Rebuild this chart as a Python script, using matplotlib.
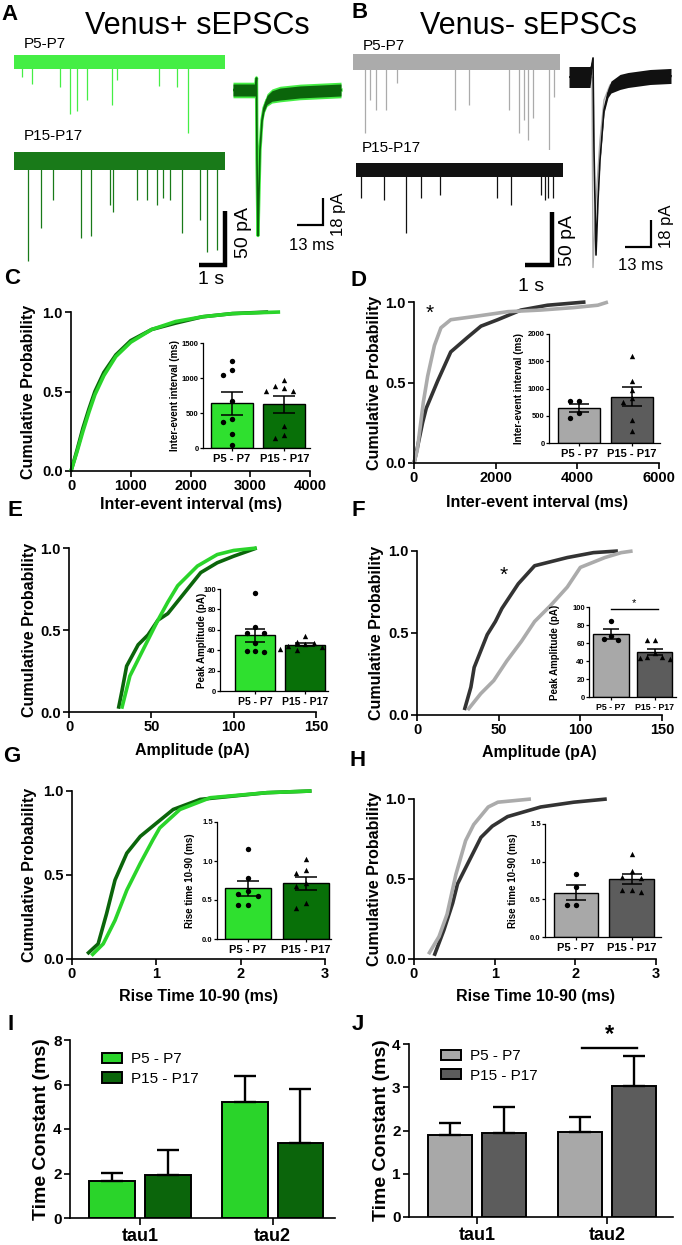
import numpy as np
import matplotlib.pyplot as plt
from matplotlib.patches import Patch

plt.rcParams['font.family'] = ['Liberation Sans', 'DejaVu Sans']

W, H = 682, 1245

# --- panel A/B : raw traces --------------------------------------------
# spontaneous events, time (s) and amplitude (pA, downward)
A_P5_TIMES = [0.29, 0.67, 1.74, 2.12, 2.40, 2.75, 3.70, 3.89, 5.50, 6.16, 6.60]
A_P5_AMPS = [14, 20, 23, 48, 45, 35, 40, 17, 22, 23, 66]
A_P15_TIMES = [0.53, 1.02, 1.48, 2.54, 2.92, 3.64, 3.75, 4.66, 5.04, 5.42, 5.64, 5.91, 6.36, 7.05, 7.31, 7.69]
A_P15_AMPS = [93, 62, 36, 71, 69, 41, 47, 36, 36, 41, 34, 36, 67, 55, 84, 82]
B_P5_TIMES = [0.45, 0.66, 0.87, 1.25, 1.67, 3.86, 4.40, 5.90, 6.30, 6.49, 6.62, 6.81, 7.44, 7.63]
B_P5_AMPS = [67, 36, 45, 45, 20, 45, 41, 45, 67, 55, 74, 53, 85, 33]
B_P15_TIMES = [0.19, 1.06, 1.89, 2.46, 3.20, 5.34, 5.87, 7.00, 7.16, 7.27, 7.46]
B_P15_AMPS = [26, 28, 59, 26, 24, 26, 33, 24, 28, 26, 26]
TRACE_DUR_A = 8.0
TRACE_DUR_B = 7.84
NOISE_A = [6.5, 8.0]
NOISE_B = [7.5, 7.0]

# averaged events, time (ms) and current (pA)
A_AVG_T = [0, 11.25, 11.75, 12, 12.5, 13, 13.5, 14.5, 15.5, 17, 19.5, 23.5, 33.5, 54]
A_AVG_I = [0, 0, 8, -47, -97, -67, -40, -20, -12, -6.7, -4, -2.7, -1.3, 0]
A_AVG_NOISE = [4, 4, 1, 0.5, 0.5, 0.5, 0.8, 1.5, 2.5, 3, 3.5, 4, 4, 4]
B_AVG_T = [0, 10.5, 12, 12.5, 13.5, 14.5, 15.5, 17.5, 19.5, 21, 25.5, 29.5, 40.5, 51]
B_AVG_I = [0, 0, 12.7, -48.7, -118.7, -82, -55.3, -22, -10.7, -6.7, -3.3, -2, 0, 0.7]
B_AVG_NOISE = [7, 7, 1, 0.5, 0.5, 0.5, 1, 2, 3, 4, 5, 5, 5, 5]
B_AVG2_T = [0, 11.5, 12, 13.5, 15.5, 17.5, 20.5, 25.5, 51]
B_AVG2_I = [0, 0, -127, -82, -42, -15.3, -5.3, -2, 0]

# --- cumulative distributions -----------------------------------------
C_P5_X = [0, 100, 200, 300, 400, 550, 750, 1000, 1350, 1750, 2200, 2700, 3500]
C_P5_P = [0, 0.12, 0.25, 0.37, 0.48, 0.60, 0.72, 0.81, 0.89, 0.94, 0.97, 0.99, 1.0]
C_P15_X = [0, 100, 200, 300, 400, 550, 750, 1000, 1350, 1750, 2200, 2700, 3300]
C_P15_P = [0, 0.13, 0.27, 0.39, 0.50, 0.62, 0.73, 0.82, 0.89, 0.93, 0.97, 0.99, 1.0]
D_P5_X = [0, 80, 150, 230, 335, 500, 660, 900, 1480, 2300, 3100, 3900, 4500, 4750]
D_P5_P = [0, 0.08, 0.22, 0.38, 0.54, 0.73, 0.84, 0.89, 0.91, 0.94, 0.95, 0.965, 0.98, 1.0]
D_P15_X = [0, 70, 210, 300, 580, 900, 1310, 1640, 2050, 2620, 3270, 4200]
D_P15_P = [0, 0.08, 0.25, 0.34, 0.51, 0.69, 0.78, 0.85, 0.89, 0.95, 0.98, 1.0]
E_P5_X = [32, 37, 43, 49, 54, 60, 66, 78, 90, 100, 114]
E_P5_P = [0.02, 0.22, 0.34, 0.46, 0.56, 0.67, 0.77, 0.89, 0.96, 0.985, 1.0]
E_P15_X = [30, 32, 35, 42, 48, 54, 60, 68, 80, 90, 100, 114]
E_P15_P = [0.02, 0.12, 0.28, 0.41, 0.47, 0.56, 0.60, 0.70, 0.85, 0.91, 0.95, 1.0]
F_P5_X = [31, 39, 47, 55, 64, 72, 82, 92, 100, 115, 125, 132]
F_P5_P = [0.03, 0.13, 0.21, 0.33, 0.45, 0.57, 0.67, 0.78, 0.90, 0.96, 0.99, 1.0]
F_P15_X = [29, 33, 35, 39, 43, 48, 52, 62, 72, 92, 108, 123]
F_P15_P = [0.03, 0.17, 0.29, 0.39, 0.49, 0.57, 0.65, 0.80, 0.91, 0.96, 0.99, 1.0]
G_P5_X = [0.23, 0.37, 0.51, 0.65, 0.81, 0.96, 1.04, 1.28, 1.64, 2.31, 2.84]
G_P5_P = [0.02, 0.09, 0.23, 0.41, 0.57, 0.71, 0.78, 0.89, 0.96, 0.99, 1.0]
G_P15_X = [0.18, 0.31, 0.41, 0.51, 0.65, 0.81, 0.98, 1.20, 1.52, 2.31, 2.84]
G_P15_P = [0.03, 0.09, 0.27, 0.47, 0.63, 0.73, 0.80, 0.89, 0.95, 0.99, 1.0]
H_P5_X = [0.18, 0.31, 0.41, 0.52, 0.64, 0.74, 0.92, 1.04, 1.45]
H_P5_P = [0.03, 0.14, 0.28, 0.53, 0.74, 0.84, 0.95, 0.98, 1.0]
H_P15_X = [0.25, 0.37, 0.48, 0.54, 0.66, 0.83, 0.97, 1.16, 1.57, 1.98, 2.39]
H_P15_P = [0.02, 0.18, 0.35, 0.47, 0.59, 0.76, 0.83, 0.89, 0.95, 0.98, 1.0]

# --- per-cell values for the insets -------------------------------------
C_CELLS_P5 = [1248, 1119, 1048, 667, 414, 371, 205, 38]
C_CELLS_P15 = [857, 819, 819, 881, 976, 310, 181, 143]
D_CELLS_P5 = [773, 773, 466, 558]
D_CELLS_P15 = [1600, 1130, 980, 820, 760, 430, 220]
E_CELLS_P5 = [95.8, 62.4, 57, 57, 47, 39, 38.3, 38.8]
E_CELLS_P15 = [54, 48, 47, 44, 41, 40, 43, 46]
F_CELLS_P5 = [85, 68, 63, 64]
F_CELLS_P15 = [63, 63, 49, 45, 44, 43, 42]
G_CELLS_P5 = [1.15, 0.78, 0.55, 0.58, 0.43, 0.44, 0.62]
G_CELLS_P15 = [1.02, 0.85, 0.88, 0.68, 0.72, 0.40, 0.46]
H_CELLS_P5 = [0.83, 0.66, 0.42, 0.43]
H_CELLS_P15 = [1.10, 0.88, 0.80, 0.78, 0.62, 0.60, 0.62]

# --- decay time constants ---------------------------------------------
TAUS = ['tau1', 'tau2']
I_P5 = [1.65, 5.22]
I_P5_ERR = [0.38, 1.16]
I_P15 = [1.95, 3.38]
I_P15_ERR = [1.10, 2.41]
J_P5 = [1.90, 1.97]
J_P5_ERR = [0.27, 0.35]
J_P15 = [1.94, 3.03]
J_P15_ERR = [0.60, 0.69]

LIME = '#45ee45'
GREEN_L = '#2ad42a'
GREEN_D = '#0b650b'
BAR_GL = '#2fe02f'
BAR_GD = '#087008'
GRAY_L = '#ababab'
GRAY_D = '#333333'
BAR_KL = '#a8a8a8'
BAR_KD = '#5c5c5c'

fig = plt.figure(figsize=(W / 100, H / 100), dpi=100)


def px_axes(left, top, right, bottom):
    return fig.add_axes([left / W, 1 - bottom / H, (right - left) / W, (bottom - top) / H])


def ftext(x, y, s, **kw):
    fig.text(x / W, 1 - y / H, s, **kw)


# ===================== traces ======================
def trace_axes(x0, x1, top, bottom, base, t_per_px, pa_per_px):
    ax = px_axes(x0, top, x1, bottom)
    ax.set_xlim(0, (x1 - x0) * t_per_px)
    ax.set_ylim(-(bottom - base) * pa_per_px, (base - top) * pa_per_px)
    ax.axis('off')
    return ax


def raw_trace(ax, dur, noise, times, amps, color):
    ax.fill_between([0, dur], [-noise, -noise], [noise, noise], color=color, lw=0)
    ax.vlines(times, -np.array(amps), 0, color=color, lw=0.9)


def scale_bar(ax, x, y, dx, dy, lw):
    ax.plot([x - dx, x, x], [y, y, y + dy], color='k', lw=lw,
            solid_joinstyle='miter', solid_capstyle='butt', clip_on=False)


# panel A
ax = trace_axes(14, 225, 40, 140, 62, 1 / 26.4, 1 / 1.08)
raw_trace(ax, TRACE_DUR_A, NOISE_A[0], A_P5_TIMES, A_P5_AMPS, LIME)
ax = trace_axes(14, 225, 140, 290, 161, 1 / 26.4, 1 / 1.08)
raw_trace(ax, TRACE_DUR_A, NOISE_A[1], A_P15_TIMES, A_P15_AMPS, '#197a19')
scale_bar(ax, 8.0, -96, 1.0, 50, 3.2)

ax = trace_axes(233, 345, 60, 260, 90, 0.5, 1 / 1.5)
t = np.array(A_AVG_T)
i = np.array(A_AVG_I)
nz = np.array(A_AVG_NOISE)
ax.fill_between(t, i - nz - 1.2, i + nz + 1.2, color=LIME, lw=0, zorder=1)
ax.plot(t, i, color=LIME, lw=2.4, zorder=1)
ax.fill_between(t, i - nz, i + nz, color=GREEN_D, lw=0, zorder=2)
ax.plot(t, i, color=GREEN_D, lw=1.2, zorder=3)
scale_bar(ax, 45, -90, 13, 18, 1.6)

# panel B
ax = trace_axes(353, 560, 40, 150, 62, 1 / 26.4, 1 / 1.06)
raw_trace(ax, TRACE_DUR_B, NOISE_B[0], B_P5_TIMES, B_P5_AMPS, GRAY_L)
ax = trace_axes(356, 563, 150, 290, 170, 1 / 26.4, 1 / 1.06)
raw_trace(ax, TRACE_DUR_B, NOISE_B[1], B_P15_TIMES, B_P15_AMPS, '#111111')
scale_bar(ax, 7.42, -90, 1.0, 50, 3.2)

ax = trace_axes(569, 680, 50, 275, 77, 0.5, 1 / 1.5)
ax.plot(B_AVG2_T, B_AVG2_I, color=GRAY_L, lw=1.0, zorder=1)
t = np.array(B_AVG_T)
i = np.array(B_AVG_I)
nz = np.array(B_AVG_NOISE)
ax.fill_between(t, i - nz, i + nz, color='#111111', lw=0, zorder=2)
ax.plot(t, i, color='#111111', lw=1.2, zorder=3)
scale_bar(ax, 41, -113.3, 13, 18, 1.6)

# trace texts
ftext(10, 14, 'A', fontsize=16, fontweight='bold', ha='center', va='center')
ftext(360, 12, 'B', fontsize=16, fontweight='bold', ha='center', va='center')
ftext(197, 26, 'Venus+ sEPSCs', fontsize=22, ha='center', va='center')
ftext(528, 26, 'Venus- sEPSCs', fontsize=22, ha='center', va='center')
ftext(24, 48, 'P5-P7', fontsize=11, va='baseline')
ftext(24, 140, 'P15-P17', fontsize=11, va='baseline')
ftext(363, 50, 'P5-P7', fontsize=11, va='baseline')
ftext(362, 152, 'P15-P17', fontsize=11, va='baseline')
ftext(244, 232, '50 pA', fontsize=14, rotation=90, ha='center', va='center')
ftext(211, 279, '1 s', fontsize=14, ha='center', va='center')
ftext(339, 214, '18 pA', fontsize=12, rotation=90, ha='center', va='center')
ftext(312, 245, '13 ms', fontsize=12, ha='center', va='center')
ftext(567, 240, '50 pA', fontsize=14, rotation=90, ha='center', va='center')
ftext(531, 286, '1 s', fontsize=14, ha='center', va='center')
ftext(666, 226, '18 pA', fontsize=12, rotation=90, ha='center', va='center')
ftext(641, 266, '13 ms', fontsize=12, ha='center', va='center')


# ===================== cumulative panels ======================
def style_main(ax, box, ylab_x, xlab_y, tick_fs=10.5):
    left, top, right, bottom = box
    for s in ('top', 'right'):
        ax.spines[s].set_visible(False)
    for s in ('left', 'bottom'):
        ax.spines[s].set_linewidth(1.2)
    ax.tick_params(direction='out', length=4, width=1.2, labelsize=tick_fs, pad=2)
    for lab in ax.get_xticklabels() + ax.get_yticklabels():
        lab.set_fontweight('bold')
    ax.yaxis.set_label_coords((ylab_x - left) / (right - left), 0.5)
    ax.yaxis.label.set_va('center')
    ax.xaxis.set_label_coords(0.5, (bottom - xlab_y) / (bottom - top))
    ax.xaxis.label.set_va('center')


def cum_panel(box, curves, xmax, xticks, xlabel, ylab_x, xlab_y):
    ax = px_axes(*box)
    ax.set_facecolor('none')
    for x, p, c in curves:
        ax.plot(x, p, color=c, lw=2.6, clip_on=False, solid_capstyle='butt')
    ax.set_xlim(0, xmax)
    ax.set_ylim(0, 1)
    ax.set_xticks(xticks)
    ax.set_yticks([0, 0.5, 1.0])
    ax.set_yticklabels(['0.0', '0.5', '1.0'])
    ax.set_xlabel(xlabel, fontsize=11.5, fontweight='bold')
    ax.set_ylabel('Cumulative Probability', fontsize=11.5, fontweight='bold')
    style_main(ax, box, ylab_x, xlab_y)
    return ax


def swarm(vals, ymax, dx=0.17, tol=0.07):
    vals = np.asarray(vals, dtype=float)
    xs = np.zeros(len(vals))
    placed = []
    for k in np.argsort(vals)[::-1]:
        for step in (0, -1, 1, -2, 2, -3, 3):
            ok = all(abs(vals[k] - vals[j]) > tol * ymax or abs(step * dx - xs[j]) > dx * 0.9
                     for j in placed)
            if ok:
                xs[k] = step * dx
                break
        placed.append(k)
    return xs


def inset_panel(box, xlim, ymax, yticks, ylabel, ylab_x, v1, v2, c1, c2, cap=6, xfs=8):
    left, top, right, bottom = box
    ax = px_axes(*box)
    ax.set_facecolor('none')
    means = [np.mean(v1), np.mean(v2)]
    sems = [np.std(v1, ddof=1) / np.sqrt(len(v1)), np.std(v2, ddof=1) / np.sqrt(len(v2))]
    ax.bar([0, 1], means, width=0.8, color=[c1, c2], edgecolor='k', lw=1.0, zorder=1)
    for k, (v, m) in enumerate(((v1, 'o'), (v2, '^'))):
        ax.scatter(k + swarm(v, ymax), v, marker=m, s=15, color='k', lw=0, zorder=3, clip_on=False)
    ax.errorbar([0, 1], means, yerr=sems, fmt='none', ecolor='k', elinewidth=1.1,
                capsize=cap, capthick=1.1, zorder=4)
    ax.set_xlim(*xlim)
    ax.set_ylim(0, ymax)
    ax.set_yticks(yticks)
    ax.set_xticks([0, 1])
    ax.set_xticklabels(['P5 - P7', 'P15 - P17'])
    for s in ('top', 'right'):
        ax.spines[s].set_visible(False)
    for s in ('left', 'bottom'):
        ax.spines[s].set_linewidth(0.9)
    ax.tick_params(axis='y', length=2, width=0.9, labelsize=5.5, pad=1)
    ax.tick_params(axis='x', length=2, width=0.9, labelsize=xfs, pad=2)
    for lab in ax.get_xticklabels() + ax.get_yticklabels():
        lab.set_fontweight('bold')
    ax.set_ylabel(ylabel, fontsize=7, fontweight='bold')
    ax.yaxis.set_label_coords((ylab_x - left) / (right - left), 0.5)
    ax.yaxis.label.set_va('center')
    return ax


# C
cum_panel((71, 312, 310, 471), [(C_P15_X, C_P15_P, GREEN_D), (C_P5_X, C_P5_P, GREEN_L)],
          4000, [0, 1000, 2000, 3000, 4000], 'Inter-event interval (ms)', 29, 504)
inset_panel((203, 343, 310, 448), (-0.55, 1.49), 1500, [0, 500, 1000, 1500],
            'Inter-event interval (ms)', 175, C_CELLS_P5, C_CELLS_P15, BAR_GL, BAR_GD, cap=8)

# D
ax = cum_panel((414, 302, 659, 463), [(D_P15_X, D_P15_P, GRAY_D), (D_P5_X, D_P5_P, GRAY_L)],
               6000, [0, 2000, 4000, 6000], 'Inter-event interval (ms)', 375, 503)
ax.text(392, 0.93, '*', fontsize=15, ha='center', va='center')
inset_panel((549, 334, 660, 443), (-0.57, 1.53), 2000, [0, 500, 1000, 1500, 2000],
            'Inter-event interval (ms)', 519, D_CELLS_P5, D_CELLS_P15, BAR_KL, BAR_KD, cap=7)

# E
cum_panel((69, 548, 316, 712), [(E_P15_X, E_P15_P, GREEN_D), (E_P5_X, E_P5_P, GREEN_L)],
          150, [0, 50, 100, 150], 'Amplitude (pA)', 30, 750)
inset_panel((220, 589, 328, 691), (-0.70, 1.45), 100, [0, 20, 40, 60, 80, 100],
            'Peak Amplitude (pA)', 202, E_CELLS_P5, E_CELLS_P15, BAR_GL, BAR_GD, cap=7, xfs=7.5)

# F
ax = cum_panel((417, 551, 662, 715), [(F_P15_X, F_P15_P, GRAY_D), (F_P5_X, F_P5_P, GRAY_L)],
               150, [0, 50, 100, 150], 'Amplitude (pA)', 376, 753)
ax.text(53, 0.85, '*', fontsize=15, ha='center', va='center')
ax = inset_panel((589, 607, 676, 697), (-0.5, 1.48), 100, [0, 20, 40, 60, 80, 100],
                 'Peak Amplitude (pA)', 555, F_CELLS_P5, F_CELLS_P15, BAR_KL, BAR_KD, cap=6, xfs=6.3)
ax.plot([0, 1.07], [97.8, 97.8], color='k', lw=1.0, clip_on=False)
ax.text(0.53, 99, '*', fontsize=8, ha='center', va='bottom')

# G
cum_panel((72, 791, 325, 959), [(G_P15_X, G_P15_P, GREEN_D), (G_P5_X, G_P5_P, GREEN_L)],
          3, [0, 1, 2, 3], 'Rise Time 10-90 (ms)', 30, 996)
ax = inset_panel((217, 822, 331, 939), (-0.53, 1.43), 1.5, [0, 0.5, 1.0, 1.5],
                 'Rise time 10-90 (ms)', 190, G_CELLS_P5, G_CELLS_P15, BAR_GL, BAR_GD, cap=8)
ax.set_yticklabels(['0.0', '0.5', '1.0', '1.5'], fontweight='bold')

# H
cum_panel((414, 799, 656, 959), [(H_P15_X, H_P15_P, GRAY_D), (H_P5_X, H_P5_P, GRAY_L)],
          3, [0, 1, 2, 3], 'Rise Time 10-90 (ms)', 375, 996)
ax = inset_panel((545, 824, 661, 937), (-0.56, 1.53), 1.5, [0, 0.5, 1.0, 1.5],
                 'Rise time 10-90 (ms)', 513, H_CELLS_P5, H_CELLS_P15, BAR_KL, BAR_KD, cap=7)
ax.set_yticklabels(['0.0', '0.5', '1.0', '1.5'], fontweight='bold')


# ===================== time constants ======================
def tau_panel(box, xlim, off, width, ymax, yticks, p5, p5e, p15, p15e, c1, c2, ylab_x, leg_anchor):
    ax = px_axes(*box)
    x = np.arange(len(TAUS))
    ekw = dict(capsize=7.8, elinewidth=1.7, capthick=1.7, ecolor='k')
    ax.bar(x - off, p5, width, color=c1, edgecolor='k', lw=1.4,
           yerr=[np.zeros(len(p5)), p5e], error_kw=ekw)
    ax.bar(x + off, p15, width, color=c2, edgecolor='k', lw=1.4,
           yerr=[np.zeros(len(p15)), p15e], error_kw=ekw)
    ax.set_xlim(*xlim)
    ax.set_ylim(0, ymax)
    ax.set_yticks(yticks)
    ax.set_xticks(x)
    ax.set_xticklabels(TAUS)
    ax.set_ylabel('Time Constant (ms)', fontsize=14, fontweight='bold')
    style_main(ax, box, ylab_x, 1236, tick_fs=11)
    ax.tick_params(axis='x', labelsize=13, length=5)
    for lab in ax.get_xticklabels():
        lab.set_fontweight('bold')
    handles = [Patch(facecolor=c1, edgecolor='k', lw=1.4), Patch(facecolor=c2, edgecolor='k', lw=1.4)]
    ax.legend(handles, ['P5 - P7', 'P15 - P17'], loc='upper left', bbox_to_anchor=leg_anchor,
              frameon=False, fontsize=11, handlelength=1.3, handleheight=0.65,
              handletextpad=0.6, labelspacing=0.35, borderpad=0, borderaxespad=0)
    return ax


tau_panel((70, 1040, 335, 1218), (-0.526, 1.47), 0.21, 0.346, 8, [0, 2, 4, 6, 8],
          I_P5, I_P5_ERR, I_P15, I_P15_ERR, GREEN_L, GREEN_D, 42, (0.12, 0.93))
ax = tau_panel((409, 1044, 673, 1217), (-0.524, 1.51), 0.208, 0.34, 4, [0, 1, 2, 3, 4],
               J_P5, J_P5_ERR, J_P15, J_P15_ERR, BAR_KL, BAR_KD, 382, (0.12, 0.97))
ax.plot([0.81, 1.23], [3.91, 3.91], color='k', lw=1.7, clip_on=False)
ax.text(1.02, 3.95, '*', fontsize=17, fontweight='bold', ha='center', va='bottom')

# panel letters
for letter, (x, y) in {'C': (12, 279), 'D': (358, 281), 'E': (15, 510), 'F': (358, 511),
                       'G': (12, 757), 'H': (358, 760), 'I': (11, 1025), 'J': (358, 1025)}.items():
    ftext(x, y, letter, fontsize=16, fontweight='bold', ha='center', va='center')

fig.savefig('out.png', dpi=100, facecolor='white')
